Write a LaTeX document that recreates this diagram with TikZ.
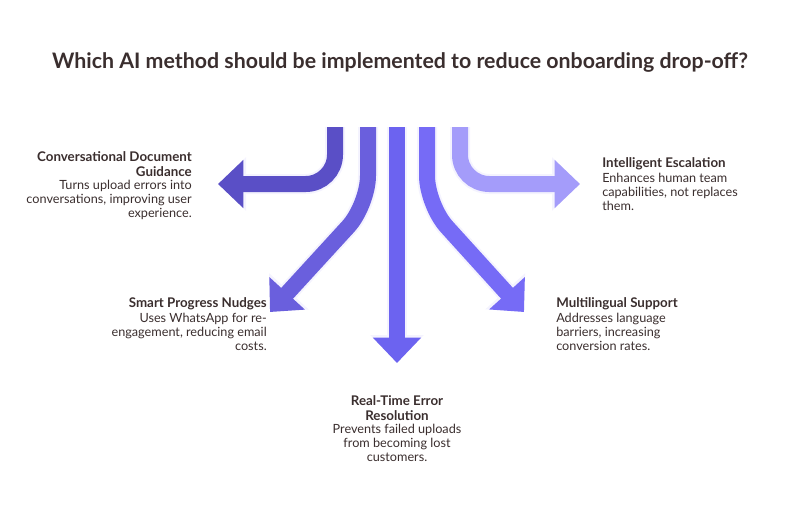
\documentclass[tikz,border=0pt]{standalone}
\usepackage{fontspec}
\setmainfont{Lato}
\usetikzlibrary{arrows.meta}
\definecolor{arrA}{HTML}{5A4FC6}
\definecolor{arrB}{HTML}{6A5FDD}
\definecolor{arrC}{HTML}{6C63F0}
\definecolor{arrD}{HTML}{766BF6}
\definecolor{arrE}{HTML}{A49CFA}
\definecolor{ink}{HTML}{3A2E2E}
\tikzset{
  flow/.style={line width=12pt, rounded corners=22pt, -{Triangle[length=19pt,width=35pt]}},
  rim/.style={line width=15pt, rounded corners=22pt, draw=arrE!12, -{Triangle[length=21pt,width=39pt]}},
  head/.style={font=\bfseries\fontsize{10}{11.5}\selectfont, text=ink, inner sep=0pt},
  body/.style={font=\fontsize{9.5}{10.8}\selectfont, text=ink, inner sep=0pt}
}
\begin{document}
\begin{tikzpicture}[x=0.75pt,y=-0.75pt]
  \useasboundingbox (0,0) rectangle (800,512);
  \node (title) at (400,62) [font=\bfseries\fontsize{16}{19}\selectfont, text=ink] {Which AI method should be implemented to reduce onboarding drop-off?};

  % start points at the top
  \coordinate (s1) at (335,127);
  \coordinate (s2) at (368,127);
  \coordinate (s3) at (397,127);
  \coordinate (s4) at (427,127);
  \coordinate (s5) at (460,127);
  % tips
  \coordinate (t1) at (218,184);
  \coordinate (t2) at (270,312);
  \coordinate (t3) at (397,363);
  \coordinate (t4) at (524,312);
  \coordinate (t5) at (580,184);

  % pale rims under the arrows
  \draw[rim] (s1) -- (335,184) -- (t1);
  \draw[rim] (s2) -- (368,205) -- (t2);
  \draw[rim] (s3) -- (t3);
  \draw[rim] (s4) -- (427,205) -- (t4);
  \draw[rim] (s5) -- (460,184) -- (t5);

  \draw[flow, arrA] (s1) -- (335,184) -- (t1);
  \draw[flow, arrB] (s2) -- (368,205) -- (t2);
  \draw[flow, arrC] (s3) -- (t3);
  \draw[flow, arrD] (s4) -- (427,205) -- (t4);
  \draw[flow, arrE] (s5) -- (460,184) -- (t5);

  % left labels
  \node (h1) [head, anchor=north east, align=right] at (192,151) {Conversational Document\\Guidance};
  \node (b1) [body, anchor=north east, align=right] at ([yshift=-2pt]h1.south east) {Turns upload errors into\\conversations, improving user\\experience.};
  \node (h2) [head, anchor=north east, align=right] at (267,297) {Smart Progress Nudges};
  \node (b2) [body, anchor=north east, align=right] at ([yshift=-2pt]h2.south east) {Uses WhatsApp for re-\\engagement, reducing email\\costs.};
  % right labels
  \node (h5) [head, anchor=north west, align=left] at (602,157) {Intelligent Escalation};
  \node (b5) [body, anchor=north west, align=left] at ([yshift=-2pt]h5.south west) {Enhances human team\\capabilities, not replaces\\them.};
  \node (h4) [head, anchor=north west, align=left] at (556,297) {Multilingual Support};
  \node (b4) [body, anchor=north west, align=left] at ([yshift=-2pt]h4.south west) {Addresses language\\barriers, increasing\\conversion rates.};
  % bottom label
  \node (h3) [head, anchor=north, align=center] at (397,395) {Real-Time Error\\Resolution};
  \node (b3) [body, anchor=north, align=center] at ([yshift=-2pt]h3.south) {Prevents failed uploads\\from becoming lost\\customers.};
\end{tikzpicture}
\end{document}
